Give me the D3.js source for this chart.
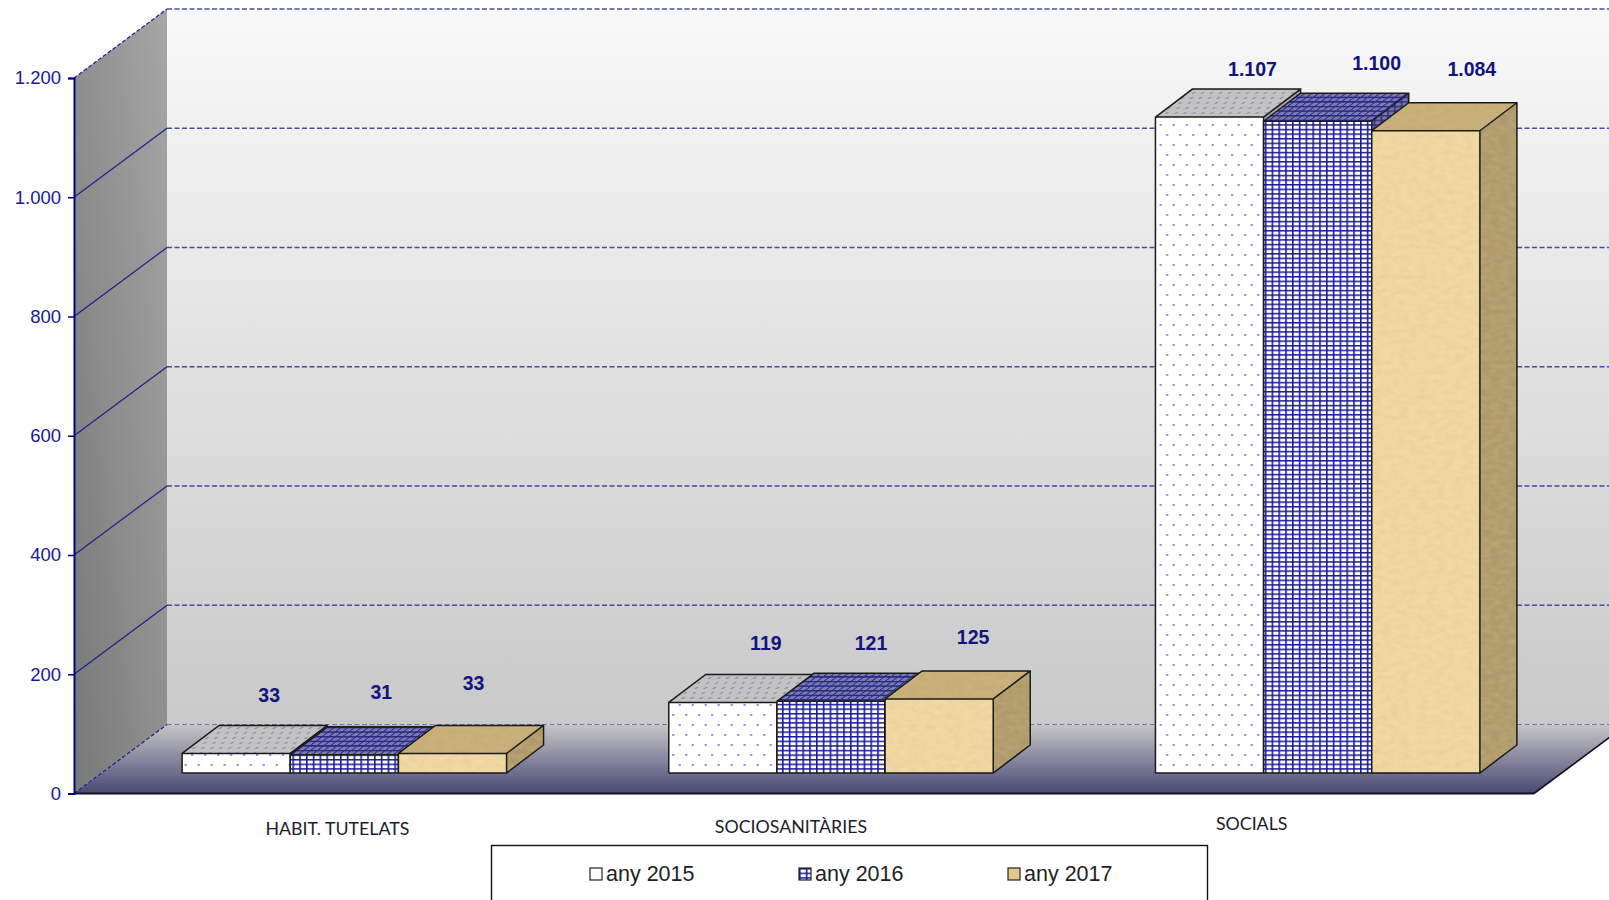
<!DOCTYPE html>
<html>
<head>
<meta charset="utf-8">
<style>
    html, body { margin: 0; padding: 0; background: #fff; overflow: hidden; }
    svg { display: block; }
    .tick text, .valueLabel, .legendText { font-family: "Liberation Sans", Arial, sans-serif; }
    .catLabel { font-family: "Lato", sans-serif; font-size: 17.8px; fill: #1c1c2c; }
    .valueLabel { font-size: 19.5px; font-weight: bold; fill: #14147e; text-anchor: middle; }
    .legendText { font-size: 21.5px; fill: #222; }
</style>
<script src="https://cdn.jsdelivr.net/npm/d3@7"></script>
</head>
<body>
<script>
// chart values
const categories = ["HABIT. TUTELATS", "SOCIOSANITÀRIES", "SOCIALS"];
const years = ["any 2015", "any 2016", "any 2017"];
const values2015 = [33, 119, 1107];
const values2016 = [31, 121, 1100];
const values2017 = [33, 125, 1084];
const yTicks = [0, 200, 400, 600, 800, 1000, 1200];

// the labels sit by hand in the original, so they are nudged from their default spot
const labelNudgeX = [[-8, -4, -20], [2, -1, -7], [2, 18, 5]];
const labelNudgeY = [[0, -5, -12], [-1, 0, -4], [9.5, 0, -3.5]];
const catNudgeX = [-7, -40, -66];
const catNudgeY = [3, 1, -2];

const width = 1609, height = 900;
const wallDx = 93, wallDy = 69;        // depth of the chart box
const planeDx = 27;                    // where the bars stand on the floor
const barDx = 37, barDy = 28;          // depth of a bar

const series = [values2015, values2016, values2017];

const svg = d3.select("body").append("svg")
    .attr("width", width)
    .attr("height", height);

const locale = d3.formatLocale({decimal: ",", thousands: ".", grouping: [3], currency: ["", ""]});
const fmt = locale.format(",");

// axis scale on the front edge, bars stand further back on the floor
const y = d3.scaleLinear().domain([0, 1200]).range([793.5, 78]);
const yBar = d3.scaleLinear().domain([0, 1200]).range([773, 62]);

const x0 = d3.scaleBand()
    .domain(categories)
    .range([74 + planeDx, 1534 + planeDx])
    .paddingInner(1 / 3)
    .paddingOuter(1 / 6);

const x1 = d3.scaleBand()
    .domain(years)
    .range([0, x0.bandwidth()]);

const defs = svg.append("defs");
setDefs();
setBox();
setAxis();
setBars();
setLabels();
setLegend();

function gradient(id, x2, y2, stops) {
    const g = defs.append("linearGradient")
        .attr("id", id)
        .attr("x1", 0).attr("y1", 0)
        .attr("x2", x2).attr("y2", y2);
    stops.forEach(function (s) {
        g.append("stop").attr("offset", s[0]).attr("stop-color", s[1]);
    });
    return g;
}

function dotPattern(id, bg, dot, w, h, transform) {
    const p = defs.append("pattern")
        .attr("id", id)
        .attr("patternUnits", "userSpaceOnUse")
        .attr("width", w).attr("height", h);
    if (transform) p.attr("patternTransform", transform);
    p.append("rect").attr("width", w).attr("height", h).attr("fill", bg);
    p.append("rect").attr("x", w * 0.2).attr("y", h * 0.2).attr("width", 2.2).attr("height", 1.8).attr("fill", dot);
    p.append("rect").attr("x", w * 0.7).attr("y", h * 0.7).attr("width", 2.2).attr("height", 1.8).attr("fill", dot);
}

function gridPattern(id, bg, line, w, h, transform) {
    const p = defs.append("pattern")
        .attr("id", id)
        .attr("patternUnits", "userSpaceOnUse")
        .attr("width", w).attr("height", h);
    if (transform) p.attr("patternTransform", transform);
    p.append("rect").attr("width", w).attr("height", h).attr("fill", bg);
    p.append("rect").attr("width", 1.6).attr("height", h).attr("fill", line);
    p.append("rect").attr("width", w).attr("height", 1.5).attr("fill", line);
}

function setDefs() {
    gradient("wallGrad", 0, 1, [[0, "#f9f9f9"], [1, "#c9c9c9"]]);
    gradient("sideGrad", 1, 0, [[0, "#787878"], [1, "#a6a6a6"]])
        .attr("y1", 1);
    gradient("floorGrad", 0, 1, [[0, "#c6c6c8"], [1, "#484874"]]);

    dotPattern("dotsFront", "#ffffff", "#8c8cd2", 13, 20);
    dotPattern("dotsTop", "#c2c2c2", "#8c8ca6", 9, 10, "skewX(-53)");
    dotPattern("dotsSide", "#a8a8a8", "#7c7c98", 13, 20);
    gridPattern("gridFront", "#ffffff", "#1c1c98", 6.8, 4.6);
    gridPattern("gridTop", "#7c7cb4", "#2a2a84", 6.8, 4.6, "skewX(-53)");
    gridPattern("gridSide", "#7878a8", "#30308a", 6.8, 4.6);

    // paper-like mottling for the tan bars
    const wood = defs.append("filter").attr("id", "wood")
        .attr("x", 0).attr("y", 0).attr("width", 1).attr("height", 1);
    wood.append("feTurbulence")
        .attr("type", "fractalNoise")
        .attr("baseFrequency", "0.11 0.2")
        .attr("numOctaves", 3)
        .attr("seed", 4)
        .attr("result", "noise");
    wood.append("feColorMatrix")
        .attr("in", "noise")
        .attr("type", "matrix")
        .attr("values", "0 0 0 0 0.66  0 0 0 0 0.52  0 0 0 0 0.24  0.6 0 0 0 -0.2")
        .attr("result", "tint");
    wood.append("feComposite")
        .attr("in", "tint")
        .attr("in2", "SourceAlpha")
        .attr("operator", "in")
        .attr("result", "mottle");
    const merge = wood.append("feMerge");
    merge.append("feMergeNode").attr("in", "SourceGraphic");
    merge.append("feMergeNode").attr("in", "mottle");
}

function setBox() {
    const backBottom = y(0) - wallDy, backTop = y(1200) - wallDy;
    const left = 74, back = left + wallDx, frontRight = 1534;

    svg.append("rect")
        .attr("x", back).attr("y", backTop)
        .attr("width", width - back).attr("height", backBottom - backTop)
        .attr("fill", "url(#wallGrad)");

    svg.append("polygon")
        .attr("points", [[left, y(1200)], [back, backTop], [back, backBottom], [left, y(0)]].join(" "))
        .attr("fill", "url(#sideGrad)");

    svg.append("polygon")
        .attr("points", [[left, y(0)], [frontRight, y(0)], [frontRight + wallDx, backBottom], [back, backBottom]].join(" "))
        .attr("fill", "url(#floorGrad)");

    // grid lines run across the side wall and the back wall
    svg.selectAll(".gridBack")
        .data(yTicks)
        .enter()
        .append("line")
        .attr("class", "gridBack")
        .attr("x1", back).attr("x2", width)
        .attr("y1", function (d) { return y(d) - wallDy; })
        .attr("y2", function (d) { return y(d) - wallDy; })
        .attr("stroke", "#2f2f96")
        .attr("stroke-width", function (d) { return d === 0 ? 1 : 1.5; })
        .attr("stroke-dasharray", "5,2.5")
        .attr("opacity", function (d) { return d === 0 ? 0.6 : 0.85; });

    svg.selectAll(".gridSide")
        .data(yTicks)
        .enter()
        .append("line")
        .attr("class", "gridSide")
        .attr("x1", left).attr("x2", back)
        .attr("y1", function (d) { return y(d); })
        .attr("y2", function (d) { return y(d) - wallDy; })
        .attr("stroke", "#1f1f8c")
        .attr("stroke-width", 1.2)
        .attr("stroke-dasharray", function (d) { return d === 0 || d === 1200 ? "4,2" : null; });

    // floor edges
    svg.append("line")
        .attr("x1", left).attr("x2", frontRight)
        .attr("y1", y(0)).attr("y2", y(0))
        .attr("stroke", "#10101c").attr("stroke-width", 2);
    svg.append("line")
        .attr("x1", frontRight).attr("x2", frontRight + wallDx)
        .attr("y1", y(0)).attr("y2", backBottom)
        .attr("stroke", "#10101c").attr("stroke-width", 1.6);
}

function setAxis() {
    const axis = d3.axisLeft(y)
        .tickValues(yTicks)
        .tickFormat(fmt)
        .tickSize(6)
        .tickPadding(7);

    const g = svg.append("g")
        .attr("transform", "translate(74,0)")
        .call(axis);

    g.select(".domain").attr("stroke", "#00008b").attr("stroke-width", 2);
    g.selectAll(".tick line").attr("stroke", "#00008b").attr("stroke-width", 1.5);
    g.selectAll(".tick text")
        .style("font-size", "18.5px")
        .attr("fill", "#1a1a96");
}

function setBars() {
    const styles = [
        {front: "url(#dotsFront)", top: "url(#dotsTop)", side: "url(#dotsSide)", filter: null},
        {front: "url(#gridFront)", top: "url(#gridTop)", side: "url(#gridSide)", filter: null},
        {front: "#f1daa4", top: "#c6ad78", side: "#ad9a6c", filter: "url(#wood)"}
    ];
    const base = yBar(0);

    categories.forEach(function (cat, c) {
        const group = svg.append("g").attr("class", "group");
        years.forEach(function (yr, s) {
            const left = x0(cat) + x1(yr),
                right = left + x1.bandwidth(),
                top = yBar(series[s][c]);
            const st = styles[s];

            group.append("polygon")
                .attr("points", [[right, top], [right + barDx, top - barDy], [right + barDx, base - barDy], [right, base]].join(" "))
                .attr("fill", st.side)
                .attr("filter", st.filter);
            group.append("polygon")
                .attr("points", [[left, top], [left + barDx, top - barDy], [right + barDx, top - barDy], [right, top]].join(" "))
                .attr("fill", st.top)
                .attr("filter", st.filter);
            group.append("rect")
                .attr("x", left).attr("y", top)
                .attr("width", x1.bandwidth()).attr("height", base - top)
                .attr("fill", st.front)
                .attr("filter", st.filter);

            // outlines go on top so the texture filter does not soften them
            group.append("path")
                .attr("d", "M" + left + "," + base + "V" + top + "L" + (left + barDx) + "," + (top - barDy)
                    + "H" + (right + barDx) + "V" + (base - barDy) + "L" + right + "," + base + "H" + left
                    + "M" + left + "," + top + "H" + right + "V" + base
                    + "M" + right + "," + top + "L" + (right + barDx) + "," + (top - barDy))
                .attr("fill", "none")
                .attr("stroke", "#1a1a1a")
                .attr("stroke-width", 1.5);
        });
    });
}

function setLabels() {
    categories.forEach(function (cat, c) {
        years.forEach(function (yr, s) {
            svg.append("text")
                .attr("class", "valueLabel")
                .attr("x", x0(cat) + x1(yr) + x1.bandwidth() / 2 + 41 + labelNudgeX[c][s])
                .attr("y", yBar(series[s][c]) - 51 + labelNudgeY[c][s])
                .text(fmt(series[s][c]));
        });

        svg.append("text")
            .attr("class", "catLabel")
            .attr("text-anchor", "middle")
            .attr("x", x0(cat) + x0.bandwidth() / 2 + catNudgeX[c])
            .attr("y", 832 + catNudgeY[c])
            .text(cat);
    });
}

function setLegend() {
    svg.append("rect")
        .attr("x", 491.5).attr("y", 845.5)
        .attr("width", 716).attr("height", 80)
        .attr("fill", "#fff")
        .attr("stroke", "#111").attr("stroke-width", 1.4);

    const swatches = ["#ffffff", "url(#gridFront)", "#e3c98e"];
    const legendX = d3.scalePoint().domain(years).range([590, 1008]);

    const items = svg.selectAll(".legendItem")
        .data(years)
        .enter()
        .append("g")
        .attr("class", "legendItem")
        .attr("transform", function (d) { return "translate(" + legendX(d) + ",868)"; });

    items.append("rect")
        .attr("width", 12).attr("height", 12)
        .attr("fill", function (d, i) { return swatches[i]; })
        .attr("stroke", "#222").attr("stroke-width", 1.2);

    items.append("text")
        .attr("class", "legendText")
        .attr("x", 16)
        .attr("y", 13)
        .text(function (d) { return d; });
}
</script>
</body>
</html>
